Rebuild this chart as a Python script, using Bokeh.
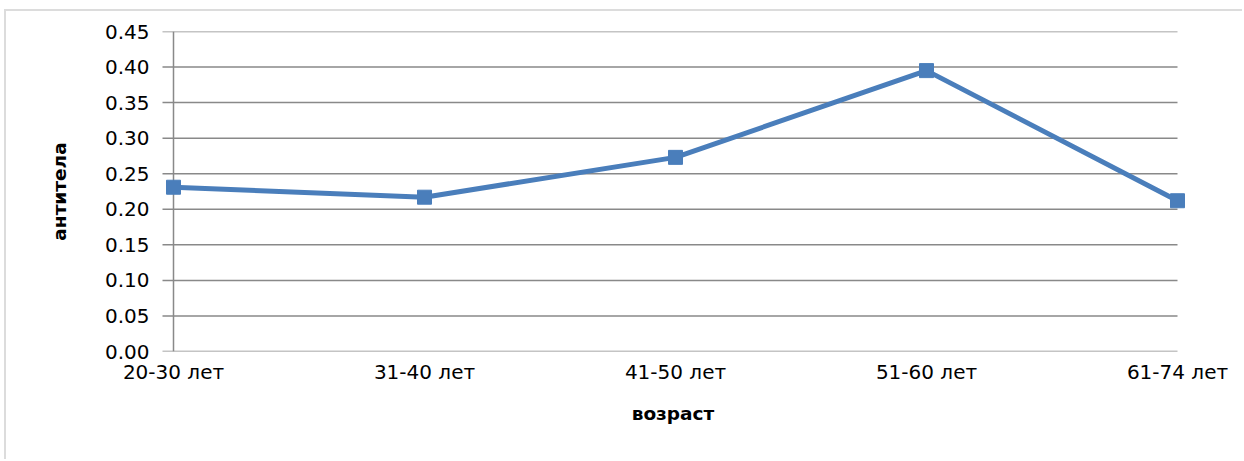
from bokeh.plotting import figure
from bokeh.models import FixedTicker, Range1d, NumeralTickFormatter
from bokeh.embed import file_html
from bokeh.resources import INLINE

# Antibody level by age group
age_groups = ["20-30 лет", "31-40 лет", "41-50 лет", "51-60 лет", "61-74 лет"]
antibodies = [0.231, 0.217, 0.273, 0.395, 0.212]
y_ticks = [0.00, 0.05, 0.10, 0.15, 0.20, 0.25, 0.30, 0.35, 0.40, 0.45]

LINE_BLUE = "#4a7ebb"
GRID_GREY = "#898989"
FONT = "DejaVu Sans"

xs = list(range(len(age_groups)))
n_last = len(age_groups) - 1

# the plot frame is a little wider than the category span, so the end
# markers are not clipped; axis and gridlines are drawn over the span only
PX_PER_CAT = 251.0
pad_left = 13 / PX_PER_CAT
pad_right = 8 / PX_PER_CAT
tick_len = 11 / PX_PER_CAT

p = figure(
    width=1238, height=450,
    output_backend="svg", toolbar_location=None,
    x_range=Range1d(-pad_left, n_last + pad_right),
    y_range=Range1d(y_ticks[0], y_ticks[-1]),
    min_border_left=154, min_border_right=59,
    min_border_top=20, min_border_bottom=110,
)
p.margin = (9, 0, 0, 4)
p.styles = {"border-top": "2px solid #dcdcdc", "border-left": "2px solid #dcdcdc"}
p.outline_line_color = None
p.background_fill_color = "white"
p.border_fill_color = "white"

# horizontal gridlines with their tick marks left of the value axis
p.segment(x0=[-tick_len] * len(y_ticks), x1=[n_last] * len(y_ticks),
          y0=y_ticks, y1=y_ticks, line_color=GRID_GREY, line_width=1.5)
# value axis line
p.segment(x0=[0], x1=[0], y0=[y_ticks[0]], y1=[y_ticks[-1]],
          line_color=GRID_GREY, line_width=1.5)

p.line(xs, antibodies, line_color=LINE_BLUE, line_width=5)
p.scatter(xs, antibodies, marker="square", size=14,
          fill_color=LINE_BLUE, line_color=LINE_BLUE)

# x axis
p.xaxis.ticker = FixedTicker(ticks=xs)
p.xaxis.major_label_overrides = {i: g for i, g in enumerate(age_groups)}
p.xaxis.major_tick_line_color = None
p.xaxis.minor_tick_line_color = None
p.xaxis.axis_line_color = None
p.xaxis.major_label_text_font = FONT
p.xaxis.major_label_text_font_size = "20px"
p.xaxis.major_label_text_color = "black"
p.xaxis.major_label_standoff = 2
p.xaxis.axis_label = "возраст"
p.xaxis.axis_label_text_font = FONT
p.xaxis.axis_label_text_font_style = "bold"
p.xaxis.axis_label_text_font_size = "18.5px"
p.xaxis.axis_label_text_color = "black"
p.xaxis.axis_label_standoff = 16

# y axis
p.yaxis.ticker = FixedTicker(ticks=y_ticks)
p.yaxis.formatter = NumeralTickFormatter(format="0.00")
p.yaxis.major_tick_line_color = None
p.yaxis.minor_tick_line_color = None
p.yaxis.axis_line_color = None
p.yaxis.major_label_text_font = FONT
p.yaxis.major_label_text_font_size = "20px"
p.yaxis.major_label_text_color = "black"
p.yaxis.major_label_standoff = 5
p.yaxis.axis_label = "антитела"
p.yaxis.axis_label_text_font = FONT
p.yaxis.axis_label_text_font_style = "bold"
p.yaxis.axis_label_text_font_size = "18.5px"
p.yaxis.axis_label_text_color = "black"
p.yaxis.axis_label_standoff = 32

p.xgrid.grid_line_color = None
p.ygrid.grid_line_color = None

open("out.html", "w").write(file_html(p, INLINE))
